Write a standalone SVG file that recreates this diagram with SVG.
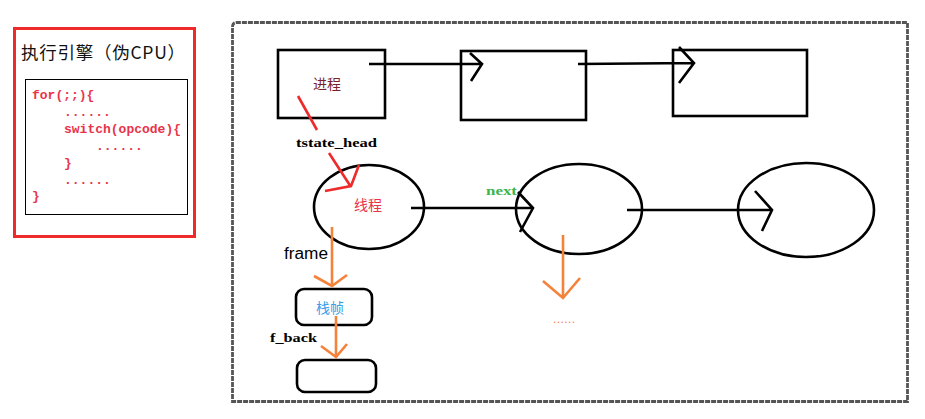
<svg xmlns="http://www.w3.org/2000/svg" width="925" height="419" viewBox="0 0 925 419">
<style>
.blk{fill:none;stroke:#000;stroke-width:2.6;stroke-linecap:square}
.ln{fill:none;stroke:#000;stroke-width:2.6}
.or{fill:none;stroke:#f5823a;stroke-width:2.6}
.rd{fill:none;stroke:#ee2a2a;stroke-width:2.6}
.code{font-family:"Liberation Mono",monospace;font-weight:bold;font-size:13px;fill:#e8334a}
.cjk{font-family:"Noto Sans CJK SC","Liberation Sans",sans-serif}
.ser{font-family:"Liberation Serif",serif;font-weight:bold}
</style>
<rect width="925" height="419" fill="#fff"/>
<g id="cpu">
<rect x="14.5" y="28.5" width="180" height="208" fill="none" stroke="#ee2a2a" stroke-width="3"/>
<text x="21" y="59" class="cjk" font-size="17.5" fill="#111" textLength="164" lengthAdjust="spacing">执行引擎（伪CPU）</text>
<rect x="25.5" y="79.5" width="162" height="135" fill="none" stroke="#000" stroke-width="1"/>
<text class="code" x="32" y="99">for(;;){</text>
<text class="code" x="64" y="116">......</text>
<text class="code" x="64" y="133">switch(opcode){</text>
<text class="code" x="96" y="150">......</text>
<text class="code" x="64" y="167">}</text>
<text class="code" x="64" y="184">......</text>
<text class="code" x="32" y="200">}</text>
</g>
<path id="frame" d="M232.5,27 Q232.5,22.5 237,22.5 L907.5,22.5 L907.5,401.5 L232.5,401.5 Z" fill="none" stroke="#555" stroke-width="2.8" stroke-dasharray="5 1"/>
<g id="proc1">
<rect x="278" y="50" width="107" height="68" class="blk"/>
<text x="313" y="89" class="cjk" font-size="14" fill="#7a1f2b">进程</text>
</g>
<g id="proc2"><rect x="461" y="51" width="125" height="69" class="blk"/></g>
<g id="proc3"><rect x="673" y="50" width="134" height="66" class="blk"/></g>
<g id="thread1">
<ellipse cx="369" cy="207" rx="55" ry="42" class="ln"/>
<text x="354" y="210" class="cjk" font-size="14" fill="#e8334a">线程</text>
</g>
<g id="thread2"><ellipse cx="579" cy="209" rx="63" ry="45" class="ln"/></g>
<g id="thread3"><ellipse cx="806" cy="210" rx="68" ry="47" class="ln"/></g>
<g id="stack1">
<rect x="296" y="289" width="76" height="36" rx="8" class="ln"/>
<text x="316" y="313" class="cjk" font-size="14" fill="#3a9ee8">栈帧</text>
</g>
<g id="stack2"><rect x="297" y="360" width="79" height="32" rx="8" class="ln"/></g>
<g id="connectors">
<path d="M369,64 L482,64 M470,53 L482,64 L471,81" class="ln"/>
<path d="M578,64 L694,63 M679,47 L694,63 L679,83" class="ln"/>
<path d="M411,208 L533,208 M518,192 L533,208 L520,232" class="ln"/>
<path d="M627,210 L772,210 M755,191 L772,210 L762,231" class="ln"/>
<path d="M298,96 L317,130 M329,153 L351,187 M325,191 L351,186 L359,165" class="rd"/>
<path d="M332,227 L332,286 M314,276 L332,286 L347,275" class="or"/>
<path d="M336,316 L336,357 M321,346 L336,357 L347,344" class="or"/>
<path d="M563,235 L563,298 M543,281 L563,298 L580,278" class="or"/>
<text x="296" y="147" class="ser" font-size="13" textLength="81" lengthAdjust="spacingAndGlyphs" fill="#000">tstate_head</text>
<text x="486" y="195" class="ser" font-size="13" textLength="31" lengthAdjust="spacingAndGlyphs" fill="#3cb54a">next</text>
<text x="284" y="259" font-family="Liberation Sans,sans-serif" font-size="16" textLength="44" lengthAdjust="spacingAndGlyphs" fill="#000">frame</text>
<text x="270" y="342" class="ser" font-size="13" textLength="47" lengthAdjust="spacingAndGlyphs" fill="#000">f_back</text>
<text x="553" y="323" font-family="Liberation Sans,sans-serif" font-size="12" textLength="22" fill="#f5823a">......</text>
</g>
</svg>
